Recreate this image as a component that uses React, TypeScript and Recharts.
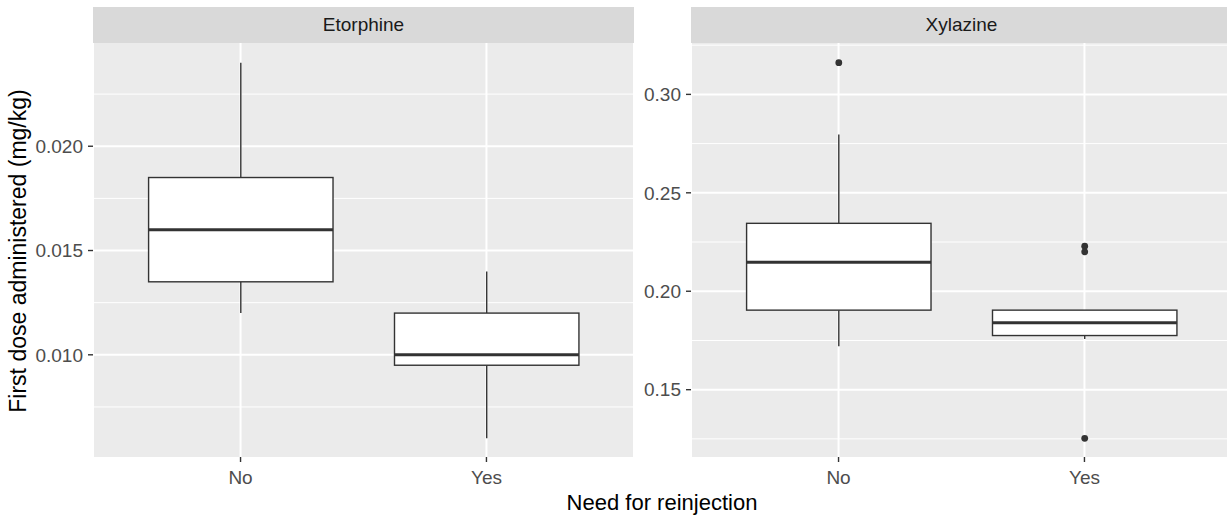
import { Bar, CartesianGrid, ComposedChart, XAxis, YAxis } from "recharts";

const CATEGORIES = ["No", "Yes"];

// Etorphine (mg/kg)
const ETO_LOWER = [0.012, 0.006];
const ETO_Q1 = [0.0135, 0.0095];
const ETO_MEDIAN = [0.016, 0.01];
const ETO_Q3 = [0.0185, 0.012];
const ETO_UPPER = [0.024, 0.014];
const ETO_OUTLIERS: number[][] = [[], []];
const ETO_TICKS = [0.01, 0.015, 0.02];
const ETO_MINOR = [0.0075, 0.0125, 0.0175, 0.0225];
const ETO_DOMAIN: [number, number] = [0.0051, 0.02495];

// Xylazine (mg/kg)
const XYL_LOWER = [0.172, 0.1758];
const XYL_Q1 = [0.1904, 0.1775];
const XYL_MEDIAN = [0.2147, 0.184];
const XYL_Q3 = [0.2345, 0.1904];
const XYL_UPPER = [0.2796, 0.1904];
const XYL_OUTLIERS: number[][] = [[0.3161], [0.2229, 0.22, 0.1253]];
const XYL_TICKS = [0.15, 0.2, 0.25, 0.3];
const XYL_MINOR = [0.125, 0.175, 0.225, 0.275, 0.325];
const XYL_DOMAIN: [number, number] = [0.1158, 0.3261];

const FONT = "'Liberation Sans', Arial, sans-serif";
const PANEL_BG = "#EBEBEB";
const STRIP_BG = "#D9D9D9";
const INK = "#333333";

type BoxRow = {
  cat: string;
  lower: number;
  q1: number;
  median: number;
  q3: number;
  upper: number;
  outliers: number[];
  lo: number;
  hi: number;
};

function buildRows(lower: number[], q1: number[], median: number[], q3: number[], upper: number[], outliers: number[][]): BoxRow[] {
  return CATEGORIES.map((cat, i) => {
    const all = [lower[i], upper[i], ...outliers[i]];
    return {
      cat,
      lower: lower[i],
      q1: q1[i],
      median: median[i],
      q3: q3[i],
      upper: upper[i],
      outliers: outliers[i],
      lo: Math.min(...all),
      hi: Math.max(...all),
    };
  });
}

// the bar spans [lo, hi] on the y scale; every other stat is placed on that same span
function BoxShape(props: any) {
  const { x, y, width, height, payload } = props;
  const top = Math.min(y, y + height);
  const bottom = Math.max(y, y + height);
  const d = payload as BoxRow;
  const toPx = (v: number) => bottom - ((v - d.lo) / (d.hi - d.lo)) * (bottom - top);
  const cx = x + width / 2;
  return (
    <g>
      <line x1={cx} x2={cx} y1={toPx(d.upper)} y2={toPx(d.q3)} stroke={INK} strokeWidth={1.4} />
      <line x1={cx} x2={cx} y1={toPx(d.q1)} y2={toPx(d.lower)} stroke={INK} strokeWidth={1.4} />
      <rect
        x={x}
        y={toPx(d.q3)}
        width={width}
        height={toPx(d.q1) - toPx(d.q3)}
        fill="#FFFFFF"
        stroke={INK}
        strokeWidth={1.4}
      />
      <line x1={x} x2={x + width} y1={toPx(d.median)} y2={toPx(d.median)} stroke={INK} strokeWidth={3} />
      {d.outliers.map((v, i) => (
        <circle key={i} cx={cx} cy={toPx(v)} r={3.4} fill={INK} />
      ))}
    </g>
  );
}

const PLOT_W = 541;
const PLOT_H = 414;
const X_AXIS_H = 43;

function Facet({
  title,
  rows,
  ticks,
  minor,
  domain,
  axisW,
  left,
  fmt,
}: {
  title: string;
  rows: BoxRow[];
  ticks: number[];
  minor: number[];
  domain: [number, number];
  axisW: number;
  left: number;
  fmt: (v: number) => string;
}) {
  const pad = PLOT_W / 22;
  const boxW = (PLOT_W / 2.2) * 0.75;
  return (
    <>
      <div
        style={{
          position: "absolute",
          left: left + axisW,
          top: 7,
          width: PLOT_W,
          height: 36,
          background: STRIP_BG,
          color: "#1A1A1A",
          fontFamily: FONT,
          fontSize: 19,
          lineHeight: "36px",
          textAlign: "center",
        }}
      >
        {title}
      </div>
      <div style={{ position: "absolute", left, top: 43 }}>
        <ComposedChart
          width={axisW + PLOT_W}
          height={PLOT_H + X_AXIS_H}
          data={rows}
          margin={{ top: 0, right: 0, bottom: 0, left: 0 }}
        >
          <CartesianGrid fill={PANEL_BG} stroke="#FFFFFF" strokeWidth={1} vertical={false} horizontalValues={minor} />
          <CartesianGrid stroke="#FFFFFF" strokeWidth={2} horizontalValues={ticks} />
          <XAxis
            dataKey="cat"
            type="category"
            padding={{ left: pad, right: pad }}
            height={X_AXIS_H}
            axisLine={false}
            tickSize={5}
            tickMargin={9}
            tickLine={{ stroke: INK, strokeWidth: 1.4 }}
            tick={{ fill: "#4D4D4D", fontSize: 19, fontFamily: FONT }}
          />
          <YAxis
            type="number"
            domain={domain}
            allowDataOverflow
            ticks={ticks}
            interval={0}
            width={axisW}
            axisLine={false}
            tickSize={5}
            tickMargin={5}
            tickLine={{ stroke: INK, strokeWidth: 1.4 }}
            tick={{ fill: "#4D4D4D", fontSize: 19, fontFamily: FONT }}
            tickFormatter={fmt}
          />
          <Bar
            dataKey={(d: BoxRow) => [d.lo, d.hi]}
            barSize={boxW}
            shape={BoxShape}
            isAnimationActive={false}
          />
        </ComposedChart>
      </div>
    </>
  );
}

export default function App() {
  const etoRows = buildRows(ETO_LOWER, ETO_Q1, ETO_MEDIAN, ETO_Q3, ETO_UPPER, ETO_OUTLIERS);
  const xylRows = buildRows(XYL_LOWER, XYL_Q1, XYL_MEDIAN, XYL_Q3, XYL_UPPER, XYL_OUTLIERS);
  return (
    <div
      style={{
        position: "absolute",
        left: 0,
        top: 0,
        width: 1227,
        height: 517,
        background: "#FFFFFF",
        overflow: "hidden",
      }}
    >
      <Facet
        title="Etorphine"
        rows={etoRows}
        ticks={ETO_TICKS}
        minor={ETO_MINOR}
        domain={ETO_DOMAIN}
        axisW={93}
        left={0}
        fmt={(v) => v.toFixed(3)}
      />
      <Facet
        title="Xylazine"
        rows={xylRows}
        ticks={XYL_TICKS}
        minor={XYL_MINOR}
        domain={XYL_DOMAIN}
        axisW={57}
        left={634}
        fmt={(v) => v.toFixed(2)}
      />
      <div
        style={{
          position: "absolute",
          left: 18,
          top: 251,
          transform: "translate(-50%, -50%) rotate(-90deg)",
          whiteSpace: "nowrap",
          fontFamily: FONT,
          fontSize: 23,
          color: "#000000",
        }}
      >
        First dose administered (mg/kg)
      </div>
      <div
        style={{
          position: "absolute",
          left: 662,
          top: 503,
          transform: "translate(-50%, -50%)",
          whiteSpace: "nowrap",
          fontFamily: FONT,
          fontSize: 22,
          color: "#000000",
        }}
      >
        Need for reinjection
      </div>
    </div>
  );
}
